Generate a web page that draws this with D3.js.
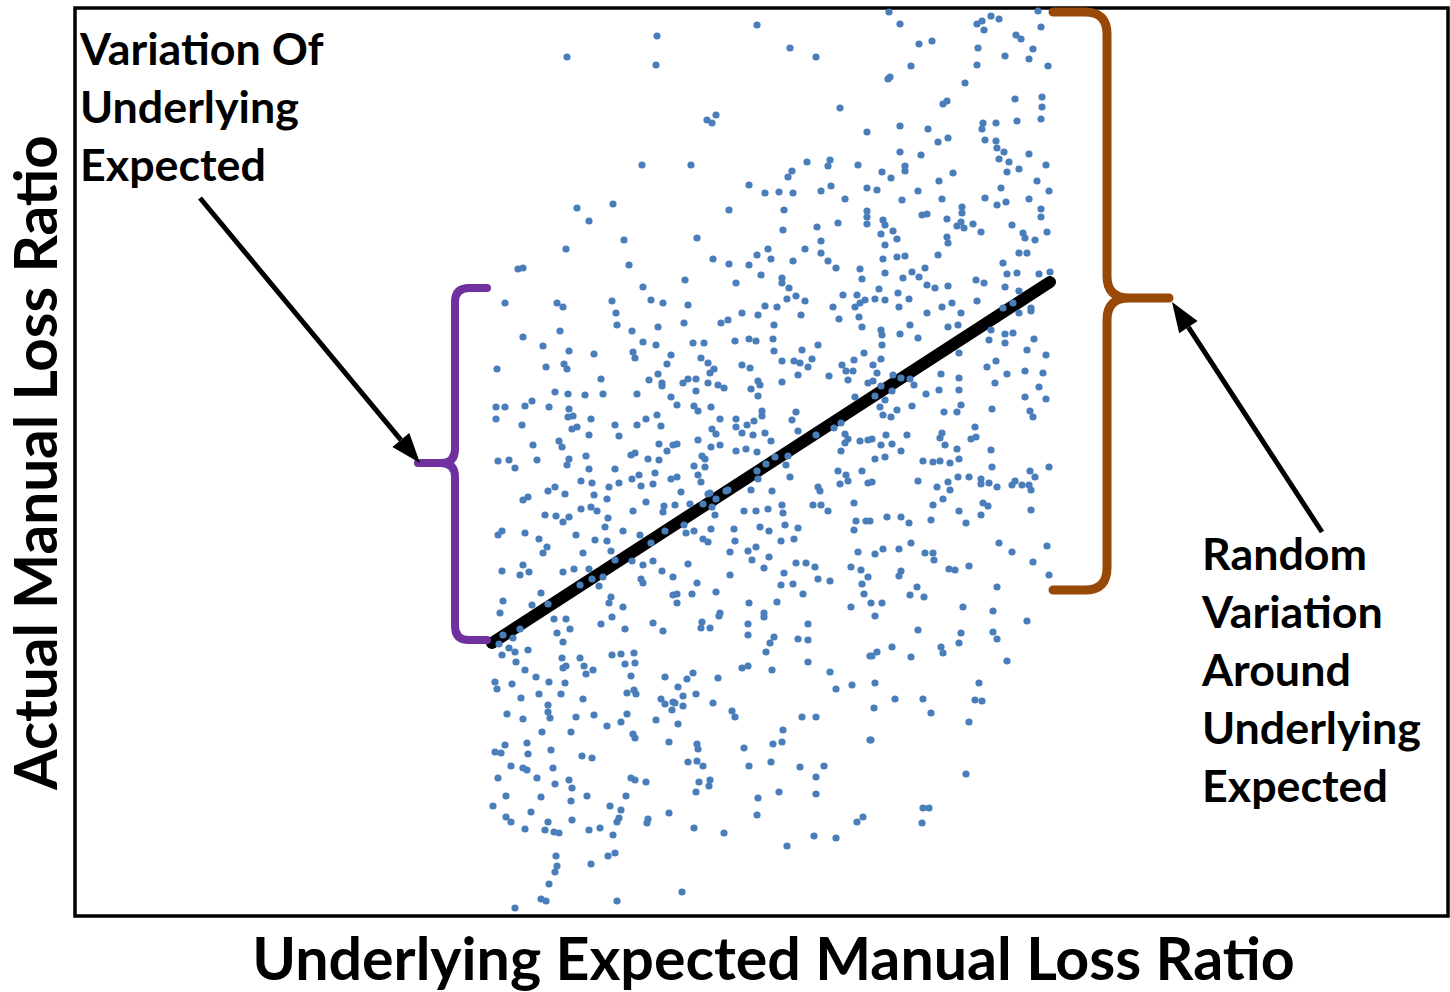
<!DOCTYPE html>
<html>
<head>
<meta charset="utf-8">
<script src="https://cdn.jsdelivr.net/npm/d3@7"></script>
<style>
  body { margin: 0; background: #fff; }
  svg text { font-family: Lato, "Open Sans", sans-serif; font-weight: bold; fill: #000; }
</style>
</head>
<body>
<div id="vis"></div>
<script>
// expected (x) vs actual (y) manual loss ratio, in %
const points = [
  [58.2,88.0],[49.2,85.9],[58.1,85.1],[56.7,75.1],[50.2,70.8],[53.8,71.2],[51.4,69.5],[54.9,67.6],[49.1,66.7],[55.4,65.1],
  [44.3,64.7],[44.8,64.8],[56.8,62.9],[43.0,61.3],[48.2,61.3],[48.8,60.9],[53.7,61.5],[57.6,61.6],[58.8,61.3],
  [68.2,89.1],[71.5,86.8],[74.1,85.9],[64.1,80.1],[63.2,79.6],[63.7,79.3],[76.5,80.8],[79.2,78.4],[61.6,75.1],[73.2,75.4],
  [75.5,75.6],[75.3,75.0],[78.3,75.1],[71.7,74.5],[71.3,73.9],[67.4,73.1],[69.0,72.3],[70.4,72.4],[71.8,72.3],[74.6,72.5],
  [75.6,73.0],[79.2,72.8],[77.0,71.7],[65.4,70.6],[70.9,70.6],[79.2,70.5],[79.2,69.9],[79.2,69.2],[76.3,69.3],[74.2,68.9],
  [70.8,68.6],[62.2,67.8],[74.6,67.5],[69.3,66.7],[73.0,66.7],[68.2,66.1],[74.6,66.3],[63.8,65.7],[69.6,65.7],[71.8,65.5],
  [75.3,65.5],[65.4,65.2],[67.4,65.1],[76.1,64.8],[78.5,64.7],[68.6,64.1],[70.7,63.8],[70.7,63.3],[61.0,63.6],[66.1,63.3],
  [78.7,63.7],[71.4,62.8],[76.8,62.1],[78.2,62.1],[72.1,62.0],[71.2,61.7],[73.0,61.5],[79.0,61.6],[78.5,61.3],[61.3,61.1],
  [69.0,61.0],[70.2,60.9],[75.8,60.9],[78.0,60.9],
  [81.4,90.4],[96.3,90.5],[82.5,89.2],[90.7,89.5],[90.2,89.2],[90.9,88.6],[91.6,90.0],[92.4,89.7],[96.6,88.9],[94.1,88.1],
  [94.6,87.7],[84.4,87.2],[85.7,87.5],[90.3,86.8],[95.8,86.7],[93.0,86.0],[95.4,85.7],[83.6,85.0],[90.2,85.1],[97.3,85.0],
  [81.3,83.7],[81.5,83.9],[89.0,83.3],[94.0,81.7],[96.7,81.9],[86.8,81.2],[87.2,81.5],[96.7,80.9],[94.2,79.5],[96.6,79.7],
  [82.5,79.0],[85.3,78.7],[90.8,79.3],[90.7,78.7],[92.1,79.3],[86.3,77.4],[87.3,77.8],[91.0,77.6],[92.1,77.5],[82.5,76.4],
  [84.6,76.1],[92.2,76.8],[92.9,76.4],[95.4,76.2],[92.4,75.7],[93.4,75.4],[83.0,75.0],[83.0,74.5],[94.4,74.7],[93.2,74.4],
  [97.1,75.1],[80.7,74.4],[81.6,73.8],[87.8,74.3],[86.4,73.5],[96.2,73.5],[80.2,72.6],[84.3,72.5],[92.6,72.8],[97.4,72.5],
  [82.7,71.6],[86.7,71.7],[91.0,71.8],[92.2,71.1],[93.1,71.4],[95.4,71.7],[88.7,70.9],[88.7,70.3],[96.6,70.7],[96.6,69.9],
  [84.7,70.1],[85.2,70.2],[80.8,69.6],[81.0,69.1],[87.2,69.7],[88.2,69.0],[88.6,69.4],[88.9,68.8],[89.8,69.2],[93.7,69.1],
  [80.6,68.2],[81.8,68.5],[82.2,67.7],[90.6,68.4],[94.8,68.3],[95.0,67.8],[97.2,68.4],[96.0,67.6],[87.2,67.9],[87.3,67.3],
  [81.0,67.1],[80.8,65.7],[82.2,65.9],[83.0,66.0],[86.3,66.1],[92.8,65.3],[94.4,66.3],[95.2,66.3],[85.0,64.8],[81.0,64.3],
  [83.7,64.4],[82.8,63.8],[84.4,63.9],[93.2,64.2],[94.2,64.3],[96.4,64.2],[97.5,64.4],[90.1,63.6],[90.9,63.3],[85.2,63.1],
  [86.0,62.8],[87.3,63.0],[93.0,62.9],[80.4,62.7],[82.3,62.3],[94.4,62.5],[80.0,61.7],[81.0,61.6],[83.4,61.7],[90.2,61.5],
  [87.7,61.3],[86.7,60.9],[82.4,60.9],[95.6,60.8],[92.8,60.8],[93.8,61.3],
  [54.1,60.3],[44.8,57.9],[48.5,58.5],[54.2,59.1],[55.7,58.5],[58.3,58.9],[46.8,57.0],[56.8,57.4],[58.1,57.1],[49.4,56.5],
  [51.9,56.2],[55.8,56.4],[56.0,55.8],[59.6,56.1],[42.2,54.7],[47.1,54.9],[48.9,55.2],[49.2,54.7],[59.2,55.2],[52.6,53.7],
  [57.4,53.6],[58.3,54.2],[58.7,53.3],[58.7,53.0],[48.0,52.4],[49.3,52.2],[51.0,52.1],[52.8,52.2],[56.2,52.2],[59.6,51.9],
  [42.1,50.9],[43.0,50.9],[45.0,51.0],[45.7,51.5],[47.4,50.9],[49.4,50.7],[42.1,49.7],[49.3,49.9],[49.8,50.0],[51.6,49.7],
  [44.7,49.1],[49.7,48.7],[50.2,48.9],[54.0,49.1],[56.2,49.1],[57.1,49.7],[58.2,50.1],[58.6,49.0],[51.4,48.1],[54.4,48.0],
  [45.8,47.1],[48.4,47.5],[48.7,46.9],[58.4,47.2],[59.8,47.1],[42.3,45.5],[43.4,45.6],[44.0,44.8],[46.2,45.6],[49.4,45.7],
  [49.2,45.1],[51.1,46.0],[51.4,44.7],[55.6,46.1],[56.0,46.3],[57.3,45.7],[58.4,45.6],[59.2,46.5],[54.0,44.7],[50.6,43.5],
  [51.7,43.3],[53.4,42.9],[54.4,43.3],[55.7,43.7],[56.4,44.1],[56.6,43.0],[58.0,44.3],[57.8,43.2],[59.6,43.7],[47.3,42.5],
  [48.0,42.9],[49.0,42.2],[51.9,42.1],[44.8,41.6],[45.3,41.9],[53.2,41.7],[57.1,41.4],[47.0,40.1],[48.1,40.0],[49.4,39.9],
  [48.8,39.4],[50.6,40.7],[51.6,40.9],[52.2,40.5],[53.3,39.8],[55.8,40.5],[58.8,40.4],[58.9,41.0],[42.3,38.1],[42.7,38.5],
  [45.0,38.3],[46.4,37.7],[50.1,38.1],[53.0,38.9],[54.8,38.5],[56.5,38.1],[59.0,38.5],[47.2,36.9],[46.8,36.3],[50.8,36.3],
  [52.0,37.6],[53.2,37.5],[53.6,36.5],[57.6,37.3],[54.0,35.6],[55.7,35.5],[56.8,35.1],[57.8,35.5],[42.7,34.5],[44.8,35.1],
  [44.5,34.1],[45.4,34.4],[48.8,34.4],[49.9,34.7],[51.4,34.7],[51.7,33.7],[52.8,33.9],[58.7,34.5],[56.6,33.7],[56.8,33.3],
  [59.8,33.9],[46.6,32.3],[50.5,33.1],[52.4,33.0],[53.6,31.9],[53.4,31.3],[47.3,31.2],[42.8,31.5],[45.7,31.1],[54.8,30.9],
  [59.8,32.1],[42.5,30.3],
  [60.9,59.3],[64.6,59.3],[65.3,59.6],[66.7,60.3],[68.3,60.1],[69.9,59.1],[72.6,60.1],[76.4,59.7],[78.4,59.9],[78.7,58.9],
  [61.8,57.3],[62.9,57.3],[66.0,57.5],[67.4,57.7],[68.1,57.5],[69.8,57.7],[74.3,57.1],[69.9,56.5],[72.7,56.6],[62.6,55.8],
  [63.3,55.3],[63.9,54.7],[63.5,54.3],[66.7,55.1],[67.5,54.8],[70.7,55.5],[71.9,55.5],[72.5,55.3],[73.7,55.7],[73.3,54.9],
  [72.3,54.1],[75.4,54.0],[76.7,55.1],[77.1,54.5],[77.3,53.6],[77.9,55.6],[77.8,54.5],[78.9,56.3],[60.8,53.3],[61.3,53.7],
  [62.1,53.7],[63.3,53.3],[64.3,53.1],[64.9,52.8],[62.1,52.5],[67.6,52.7],[68.3,53.5],[68.5,53.1],[70.7,53.4],[68.3,52.0],
  [79.3,53.3],[78.0,51.9],[60.2,51.1],[61.9,51.0],[62.3,50.5],[63.6,50.9],[68.7,50.5],[68.7,50.0],[64.5,49.7],[66.1,49.7],
  [67.9,49.5],[67.2,49.1],[66.1,48.9],[72.1,50.4],[71.7,49.6],[63.7,48.7],[64.1,48.2],[66.7,48.3],[67.8,48.1],[69.0,48.3],
  [72.3,48.5],[60.2,47.2],[62.3,47.6],[63.6,46.9],[64.5,47.1],[66.1,46.5],[67.1,46.7],[69.6,47.5],[68.2,46.4],[74.1,48.1],
  [75.9,48.8],[76.6,49.3],[77.0,48.2],[77.3,47.7],[77.0,47.3],[78.5,47.5],[79.3,47.6],[76.6,46.5],[62.7,46.0],[63.0,45.7],
  [61.9,45.0],[63.0,44.9],[62.3,44.1],[62.6,43.4],[60.2,43.9],[68.2,44.5],[69.1,45.2],[70.0,45.9],[71.3,46.0],[71.1,45.1],
  [71.5,43.9],[68.3,43.7],[76.3,44.5],[77.1,44.1],[77.3,43.5],[76.5,43.2],[78.7,44.5],[79.3,43.3],[60.6,42.4],[63.5,42.3],
  [65.1,42.5],[64.1,41.7],[62.8,41.2],[61.5,41.2],[67.6,42.6],[69.7,42.5],[74.3,42.9],[74.5,42.5],[60.0,41.1],[63.7,40.9],
  [64.0,40.1],[66.9,40.5],[68.1,40.5],[69.3,40.7],[70.7,41.1],[70.8,40.3],[73.8,41.1],[74.6,41.1],[75.3,40.5],[77.9,41.3],
  [60.9,39.1],[61.1,38.3],[61.9,38.5],[63.6,38.7],[65.9,38.7],[68.5,38.9],[69.4,38.5],[71.0,39.1],[72.3,38.8],[78.1,39.5],
  [77.9,38.6],[79.1,39.5],[62.8,37.7],[63.3,37.4],[66.0,37.5],[70.6,37.5],[71.9,37.7],[65.5,36.4],[67.3,36.5],[68.1,36.9],
  [67.7,35.6],[69.4,35.9],[78.3,36.4],[61.3,35.2],[68.9,34.8],[72.1,35.3],[73.1,35.3],[74.0,34.9],[77.6,34.9],[78.6,34.6],
  [70.9,34.3],[65.5,34.1],[62.2,33.3],[74.3,33.7],[75.5,33.5],[79.3,33.9],[70.6,33.1],[71.8,33.2],[78.7,33.2],[60.2,32.2],
  [61.7,32.2],[64.1,32.4],[72.8,32.2],[78.9,32.2],[60.2,31.3],[67.4,31.3],[70.2,31.4],[77.6,30.9],[64.5,30.3],[68.9,30.3],
  [63.3,42.2],[65.3,42.6],
  [85.2,60.3],[88.6,60.3],[94.4,60.3],[95.6,60.5],[83.5,59.1],[80.6,58.6],[80.7,58.1],[82.5,58.2],[84.3,57.8],[87.3,58.9],
  [88.3,59.1],[91.6,58.6],[93.0,58.2],[93.8,58.3],[91.4,57.6],[93.0,57.3],[95.9,57.7],[80.7,57.1],[95.2,56.6],[97.1,56.1],
  [88.4,56.3],[80.6,55.7],[91.2,54.9],[92.1,55.5],[93.2,54.2],[95.0,54.5],[96.8,54.3],[79.8,55.1],[80.2,54.3],[81.8,54.1],
  [82.6,53.8],[83.5,53.7],[86.6,54.2],[88.4,53.8],[92.0,53.3],[79.8,53.5],[80.6,53.0],[83.9,53.1],[86.4,52.6],[88.4,52.6],
  [96.4,52.9],[81.7,52.5],[80.0,52.0],[81.0,51.6],[85.1,52.2],[95.0,51.9],[97.1,51.7],[80.5,50.9],[82.2,50.6],[83.7,51.0],
  [88.6,51.1],[86.9,50.4],[88.2,50.4],[91.7,50.7],[95.5,50.5],[95.8,49.9],[80.8,50.1],[81.6,49.9],[90.0,48.9],[86.7,48.3],
  [86.5,47.8],[89.6,47.7],[90.1,47.9],[81.1,48.1],[83.2,48.1],[79.7,47.7],[80.6,47.1],[81.7,47.2],[87.0,47.1],[82.6,46.5],
  [88.2,46.7],[91.6,46.6],[80.0,45.7],[81.0,45.9],[84.8,45.5],[85.8,45.4],[86.5,45.5],[87.5,45.3],[88.4,45.7],[91.7,44.9],
  [97.4,44.9],[95.5,44.5],[96.0,43.9],[88.3,43.9],[89.4,43.9],[90.6,43.7],[79.7,43.4],[84.3,43.5],[87.3,43.4],[86.2,42.9],
  [87.5,42.6],[90.6,43.2],[91.4,43.3],[92.2,42.9],[93.7,43.1],[94.0,43.5],[94.7,43.1],[95.4,43.1],[95.6,42.6],[86.8,41.7],
  [85.8,41.1],[90.8,41.3],[91.3,41.0],[95.6,40.6],[88.4,40.5],[90.6,40.1],[81.2,39.9],[82.6,39.9],[83.4,39.3],[85.6,39.6],
  [89.1,39.3],[79.5,39.5],[80.0,36.2],[80.8,36.7],[82.4,36.7],[83.6,37.3],[85.0,36.3],[85.8,36.3],[85.9,35.6],[92.4,37.3],
  [93.7,36.4],[97.2,37.0],[95.8,35.4],[87.4,34.7],[88.0,34.6],[89.4,35.0],[82.6,34.5],[82.4,34.0],[97.4,34.1],[84.2,32.9],
  [83.5,32.1],[84.9,31.9],[92.2,32.9],[79.6,31.3],[80.7,31.3],[88.8,30.9],[91.8,30.5],
  [47.9,29.7],[49.1,29.7],[53.7,29.9],[52.6,29.2],[55.0,28.7],[57.8,29.3],[58.8,28.5],[48.2,28.3],[49.5,28.7],[44.5,28.7],
  [42.8,28.1],[42.4,27.2],[43.8,27.8],[43.4,26.8],[48.8,27.4],[44.0,26.4],[45.3,26.6],[42.7,26.1],[44.1,25.4],[48.7,25.8],
  [50.5,25.8],[53.7,26.1],[54.6,26.2],[55.9,26.3],[55.0,25.2],[56.0,25.3],[45.0,24.6],[48.8,24.8],[49.1,25.0],[50.9,25.0],
  [51.1,24.2],[51.8,24.6],[46.1,23.9],[55.6,24.0],[59.0,23.9],[42.0,23.4],[42.2,22.7],[43.7,23.2],[47.4,23.4],[49.0,23.3],
  [46.4,22.2],[48.6,22.2],[44.6,21.8],[50.8,21.7],[55.2,22.3],[55.9,22.6],[56.1,22.2],[58.6,21.7],[59.0,21.2],[59.8,21.4],
  [59.7,20.6],[47.3,21.1],[43.2,20.2],[44.8,19.7],[47.3,20.4],[47.5,19.8],[50.1,19.9],[51.9,20.1],[55.2,20.2],[53.2,19.0],
  [54.6,19.4],[58.1,19.6],[46.7,18.4],[49.6,18.4],[55.8,18.2],[56.0,17.8],[45.2,17.3],[59.4,17.4],[42.0,16.4],[42.6,16.3],
  [43.0,17.1],[45.3,16.2],[47.6,16.6],[50.7,16.0],[51.7,15.8],[43.6,15.0],[44.8,14.8],[45.2,14.6],[47.8,14.8],[42.3,13.8],
  [46.2,13.8],[48.0,13.2],[49.4,13.6],[49.7,12.8],[55.6,13.8],[56.0,13.6],[57.1,13.4],[43.1,12.0],[46.6,11.9],[49.6,11.5],
  [51.2,12.0],[55.1,12.0],[41.8,11.0],[45.6,10.4],[53.5,11.0],[54.6,10.6],[59.4,10.3],[43.1,9.9],[43.6,9.4],[54.4,9.8],
  [54.2,9.4],[57.3,9.7],[57.2,9.3],[45.0,8.7],[47.0,8.6],[47.3,9.4],[47.9,8.4],[48.4,8.3],[49.7,9.6],[51.4,8.6],
  [52.5,8.8],[53.8,8.1],[48.1,6.0],[48.2,5.0],[48.0,4.4],[47.4,3.2],[51.6,5.2],[53.3,6.0],[54.0,6.3],[46.6,1.7],
  [47.1,1.5],[54.2,1.5],[44.0,0.8],
  [64.4,30.0],[68.9,29.9],[62.7,29.4],[62.6,28.8],[63.5,28.8],[67.3,29.2],[67.3,28.1],[73.3,29.2],[69.9,27.9],[69.5,27.3],
  [72.3,27.7],[73.3,27.6],[69.1,26.4],[79.5,26.0],[73.3,25.4],[66.7,24.8],[67.3,25.0],[69.7,24.6],[75.5,24.4],[61.8,24.3],
  [61.2,23.7],[64.3,23.8],[77.7,23.1],[76.1,22.7],[60.3,22.9],[62.1,22.2],[60.8,22.0],[63.8,21.3],[60.0,21.3],[60.8,21.0],
  [65.7,20.5],[66.0,19.9],[72.7,19.9],[74.1,19.9],[60.3,19.2],[70.8,18.6],[79.5,17.6],[62.2,17.2],[62.3,16.7],[66.9,16.8],
  [69.8,17.2],[70.7,17.4],[61.3,15.4],[62.2,15.5],[62.8,15.0],[67.4,15.0],[69.6,15.4],[72.5,14.9],[74.9,15.0],[74.1,13.9],
  [63.5,13.6],[63.4,13.0],[62.4,13.4],[62.1,12.4],[70.4,12.4],[74.1,12.2],[68.3,11.8],[68.2,10.1],[61.9,8.8],[64.9,8.3],
  [78.2,9.4],[78.8,9.9],[73.9,8.0],[76.1,7.8],[71.2,7.0],[60.7,2.4],
  [80.0,30.0],[95.2,29.5],[84.3,28.6],[88.6,28.3],[91.8,28.4],[92.2,27.7],[81.7,26.9],[86.6,26.9],[88.4,27.3],[80.2,26.4],
  [79.7,26.0],[83.6,25.9],[86.8,26.3],[93.2,25.5],[80.0,23.3],[90.4,23.3],[82.0,21.7],[84.8,21.7],[90.0,21.6],[90.7,21.5],
  [79.9,20.8],[85.6,20.3],[89.4,19.4],[79.6,17.6],[89.1,14.2],[84.8,10.8],[85.4,10.8],[84.7,9.3]
];

// straight line of actual against underlying expected
const fitLine = [[41.7, 27.3], [97.5, 63.4]];

const xDomain = [0, 137.3];
const yDomain = [0, 90.8];

const xTitle = "Underlying Expected Manual Loss Ratio";
const yTitle = "Actual Manual Loss Ratio";
const leftLabel = ["Variation Of", "Underlying", "Expected"];
const rightLabel = ["Random", "Variation", "Around", "Underlying", "Expected"];

const width = 1450, height = 992;
const margin = { top: 8, right: 2, bottom: 76, left: 75 };

const svg = d3
  .select("#vis")
  .append("svg")
  .attr("width", width)
  .attr("height", height);

const x = d3.scaleLinear().domain(xDomain).range([margin.left, width - margin.right]);
const y = d3.scaleLinear().domain(yDomain).range([height - margin.bottom, margin.top]);

////////// frame //////////

svg
  .append("rect")
  .attr("x", x(xDomain[0]))
  .attr("y", y(yDomain[1]))
  .attr("width", x(xDomain[1]) - x(xDomain[0]))
  .attr("height", y(yDomain[0]) - y(yDomain[1]))
  .attr("fill", "none")
  .attr("stroke", "#000")
  .attr("stroke-width", 3.5);

////////// line + points //////////

svg
  .append("line")
  .attr("x1", x(fitLine[0][0]))
  .attr("y1", y(fitLine[0][1]))
  .attr("x2", x(fitLine[1][0]))
  .attr("y2", y(fitLine[1][1]))
  .attr("stroke", "#000")
  .attr("stroke-width", 12)
  .attr("stroke-linecap", "round");

svg
  .append("g")
  .selectAll("circle")
  .data(points)
  .enter()
  .append("circle")
  .attr("cx", d => x(d[0]))
  .attr("cy", d => y(d[1]))
  .attr("r", 3.6)
  .attr("fill", "#4a7ebb");

////////// braces + arrows //////////

// xe = open ends, xv = spine, xt = tip; all in data units
function brace(xe, xv, xt, yt, ym, yb, r) {
  const e = x(xe), v = x(xv), t = x(xt);
  const top = y(yt), mid = y(ym), bot = y(yb);
  const s = Math.sign(e - v);
  const p = d3.path();
  p.moveTo(e, top);
  p.lineTo(v + s * r, top);
  p.quadraticCurveTo(v, top, v, top + r);
  p.lineTo(v, mid - r);
  p.quadraticCurveTo(v, mid, v - s * r, mid);
  p.lineTo(t, mid);
  p.lineTo(v - s * r, mid);
  p.quadraticCurveTo(v, mid, v, mid + r);
  p.lineTo(v, bot - r);
  p.quadraticCurveTo(v, bot, v + s * r, bot);
  p.lineTo(e, bot);
  return p.toString();
}

svg
  .append("path")
  .attr("d", brace(41.2, 38.0, 34.3, 62.8, 45.3, 27.6, 14))
  .attr("fill", "none")
  .attr("stroke", "#7030a0")
  .attr("stroke-width", 8)
  .attr("stroke-linecap", "round")
  .attr("stroke-linejoin", "round");

svg
  .append("path")
  .attr("d", brace(97.8, 103.2, 109.4, 90.4, 61.8, 32.6, 22))
  .attr("fill", "none")
  .attr("stroke", "#984807")
  .attr("stroke-width", 9)
  .attr("stroke-linecap", "round")
  .attr("stroke-linejoin", "round");

function arrow(x1, y1, x2, y2) {
  const a = [x(x1), y(y1)], b = [x(x2), y(y2)];
  const ang = Math.atan2(b[1] - a[1], b[0] - a[0]);
  const len = 30, half = 11;
  const base = [b[0] - len * Math.cos(ang), b[1] - len * Math.sin(ang)];
  svg
    .append("line")
    .attr("x1", a[0])
    .attr("y1", a[1])
    .attr("x2", base[0])
    .attr("y2", base[1])
    .attr("stroke", "#000")
    .attr("stroke-width", 5);
  const nx = -Math.sin(ang), ny = Math.cos(ang);
  svg
    .append("polygon")
    .attr("points", [
      b,
      [base[0] + half * nx, base[1] + half * ny],
      [base[0] - half * nx, base[1] - half * ny]
    ].map(q => q.join(",")).join(" "))
    .attr("fill", "#000");
}

arrow(12.5, 71.8, 34.5, 45.3);
arrow(124.7, 38.4, 109.7, 61.4);

////////// text //////////

// scale a font size so a text fills the given width
function fit(sel, target) {
  const w = sel.node().getComputedTextLength();
  return 40 * target / w;
}

const xt = svg
  .append("text")
  .attr("x", 773.5)
  .attr("y", 980)
  .attr("text-anchor", "middle")
  .attr("font-size", 40)
  .text(xTitle);
xt.attr("font-size", fit(xt, 1043));

const yt = svg
  .append("text")
  .attr("transform", "translate(57,462.5) rotate(-90)")
  .attr("text-anchor", "middle")
  .attr("font-size", 40)
  .text(yTitle);
yt.attr("font-size", fit(yt, 655));

const probe = svg.append("text").attr("font-size", 40).text("Underlying");
const labelSize = fit(probe, 219);
probe.remove();

svg
  .append("g")
  .selectAll("text")
  .data(leftLabel)
  .enter()
  .append("text")
  .attr("x", 80)
  .attr("y", (d, i) => 65 + i * 58)
  .attr("font-size", labelSize)
  .text(d => d);

svg
  .append("g")
  .selectAll("text")
  .data(rightLabel)
  .enter()
  .append("text")
  .attr("x", 1202)
  .attr("y", (d, i) => 570 + i * 58)
  .attr("font-size", labelSize)
  .text(d => d);
</script>
</body>
</html>
